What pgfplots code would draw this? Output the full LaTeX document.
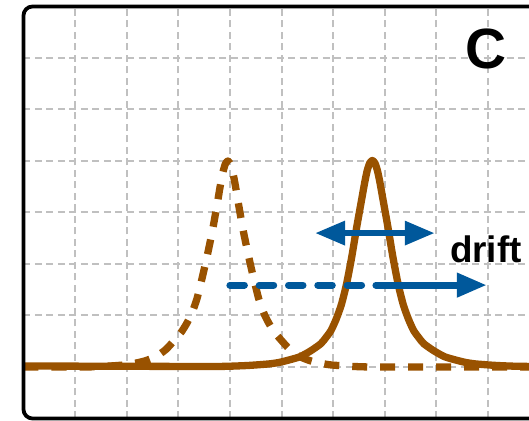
\documentclass[border=0pt]{standalone}
\usepackage{pgfplots}
\pgfplotsset{compat=1.18}
\usetikzlibrary{arrows.meta}
\usepackage{fontspec}
\setmainfont{Liberation Sans}
\definecolor{brn}{HTML}{995200}
\definecolor{blu}{HTML}{00589B}
\definecolor{grd}{HTML}{C0C0C0}

\begin{document}
\begin{tikzpicture}
\begin{axis}[
 width=516bp, height=412bp, scale only axis,
 xmin=0, xmax=10, ymin=0, ymax=8,
 xtick={1,...,9}, ytick={1,...,7},
 xticklabels={}, yticklabels={},
 major tick length=0pt,
 grid=major,
 major grid style={grd, line width=2bp, dash pattern=on 7bp off 4.5bp},
 axis line style={draw=none},
 clip=false,
]
% solid (drifted) peak
\addplot[brn, line width=7.3bp, line join=round, smooth, tension=0.4] coordinates {
(0,1.02) (1.5,1.015) (3.56,1.01) (3.96,1.014) (4.36,1.03) (4.76,1.06) (4.96,1.09)
(5.16,1.14) (5.36,1.20) (5.56,1.31) (5.76,1.45) (5.86,1.57) (5.96,1.71) (6.06,1.93)
(6.16,2.21) (6.26,2.61) (6.36,3.13) (6.46,3.73) (6.56,4.29) (6.61,4.57) (6.66,4.81)
(6.71,4.96) (6.76,5.01) (6.81,4.96) (6.86,4.81) (6.91,4.57) (6.96,4.29) (7.06,3.73)
(7.16,3.13) (7.26,2.61) (7.36,2.21) (7.46,1.93) (7.56,1.71) (7.66,1.57) (7.76,1.45)
(7.96,1.31) (8.16,1.20) (8.36,1.14) (8.56,1.09) (8.76,1.06) (9.16,1.03) (9.56,1.014)
(9.96,1.01) (10,1.01)
};
% dashed (original) peak
\addplot[brn, line width=7.3bp, line join=round, dash pattern=on 15bp off 13bp, smooth, tension=0.4] coordinates {
(0,1.0) (1.16,1.0) (1.56,1.012) (1.96,1.04) (2.16,1.072) (2.36,1.12) (2.56,1.20)
(2.76,1.34) (2.96,1.56) (3.06,1.68) (3.16,1.84) (3.26,2.04) (3.36,2.32) (3.46,2.72)
(3.56,3.16) (3.66,3.64) (3.76,4.20) (3.81,4.50) (3.86,4.76) (3.91,4.94) (3.96,5.0)
(4.01,4.94) (4.06,4.76) (4.11,4.50) (4.16,4.20) (4.26,3.64) (4.36,3.16) (4.46,2.72)
(4.56,2.32) (4.66,2.04) (4.76,1.84) (4.86,1.68) (4.96,1.56) (5.16,1.34) (5.36,1.20)
(5.56,1.12) (5.76,1.072) (5.96,1.04) (6.36,1.012) (6.76,1.0) (8,1.0) (10,1.0)
};
% blue arrows
\draw[blu, line width=7bp, line cap=round, dash pattern=on 14.5bp off 14.8bp] (axis cs:4.0,2.59) -- (axis cs:6.74,2.59);
\draw[blu, line width=7bp, line cap=round, -{Triangle[length=30bp,width=23bp]}] (axis cs:6.83,2.59) -- (axis cs:8.98,2.59);
\draw[blu, line width=6.3bp, {Triangle[length=30bp,width=23bp]}-{Triangle[length=30bp,width=23bp]}] (axis cs:5.65,3.60) -- (axis cs:7.97,3.60);
% texts
\node[anchor=base, inner sep=0pt, font=\fontsize{57}{60}\selectfont\bfseries] at (axis cs:8.96,6.80) {C};
\node[anchor=base, inner sep=0pt, font=\fontsize{37}{40}\selectfont\bfseries] at (axis cs:8.96,3.02) {drift};
% frame
\draw[black, line width=3.8bp, rounded corners=9bp] (axis cs:0,0) rectangle (axis cs:10,8);
\coordinate (BL) at (axis cs:-0.4554,-0.0485);
\coordinate (TR) at (axis cs:9.7965,8.1262);
\end{axis}
\pgfresetboundingbox
\useasboundingbox (BL) rectangle (TR);
\end{tikzpicture}
\end{document}
